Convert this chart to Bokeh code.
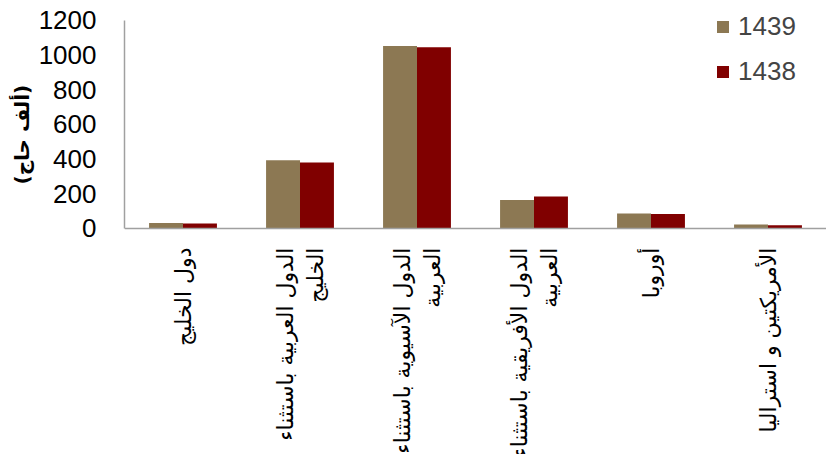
from math import pi
from bokeh.plotting import figure
from bokeh.models import FactorRange, Range1d, Legend, LegendItem, Span, ColumnDataSource, Title
from bokeh.transform import dodge
from bokeh.core.properties import value
from bokeh.embed import file_html
from bokeh.resources import INLINE

# ---- data ----
regions = [
    "دول الخليج",
    "الدول العربية باستثناء\nالخليج",
    "الدول الآسيوية باستثناء\nالعربية",
    "الدول الأفريقية باستثناء\nالعربية",
    "أوروبا",
    "الأمريكتين و استراليا",
]
pilgrims_1439 = [32, 394, 1052, 164, 86, 23]
pilgrims_1438 = [29, 380, 1045, 184, 83, 19]
series_names = ["1439", "1438"]
y_ticks = [0, 200, 400, 600, 800, 1000, 1200]
y_title = "(ألف حاج)"

# ---- styles ----
C1439 = "#8C7853"
C1438 = "#800000"
AXIS_GREY = "#a0a0a0"

# The frame covers the whole page height so that the legend is not cut at the
# top and the rotated category labels (text glyphs under the zero line) are
# cut by the page edge, as in the original.  The value axis is bounded to 0..1200.
p = figure(
    x_range=FactorRange(factors=regions),
    y_range=Range1d(-1304, 1315),
    width=826, height=454,
    output_backend="svg", toolbar_location=None,
    x_axis_location=None,
    min_border_left=124, min_border_right=0,
    min_border_top=0, min_border_bottom=0,
    outline_line_color=None,
)
p.xgrid.grid_line_color = None
p.ygrid.grid_line_color = None

src = ColumnDataSource(dict(region=regions, s1439=pilgrims_1439, s1438=pilgrims_1438))
r1 = p.vbar(x=dodge("region", -0.145, range=p.x_range), top="s1439", width=0.29,
            source=src, fill_color=C1439, line_color=None)
r2 = p.vbar(x=dodge("region", 0.145, range=p.x_range), top="s1438", width=0.29,
            source=src, fill_color=C1438, line_color=None)

# category axis line at zero
p.add_layout(Span(location=0, dimension="width", line_color=AXIS_GREY, line_width=1.5))

# category labels, rotated, hanging from the zero line
p.text(x="region", y=-110, text="region", source=src, angle=pi / 2,
       text_align="right", text_baseline="middle",
       text_font=value("DejaVu Sans"), text_font_size="22px", text_color="black")

# y axis
p.yaxis.bounds = (0, 1200)
p.yaxis.ticker = y_ticks
p.yaxis.major_tick_line_color = None
p.yaxis.minor_tick_line_color = None
p.yaxis.axis_line_color = AXIS_GREY
p.yaxis.axis_line_width = 1.5
p.yaxis.major_label_text_font = "Liberation Sans"
p.yaxis.major_label_text_font_size = "26px"
p.yaxis.major_label_text_color = "black"
p.yaxis.major_label_standoff = 22

# value-axis title, beside the 0..1200 part of the axis
p.add_layout(Title(text=y_title, align="left", offset=270, standoff=4,
                   text_font="DejaVu Sans", text_font_size="20px",
                   text_font_style="bold", text_color="black"), "left")

legend = Legend(
    items=[LegendItem(label=series_names[0], renderers=[r1]),
           LegendItem(label=series_names[1], renderers=[r2])],
    location=(591, 367),
    glyph_width=15, glyph_height=15,
    label_text_font="Liberation Sans", label_text_font_size="26px",
    label_standoff=8, padding=0, margin=0, spacing=14,
    border_line_color=None, background_fill_alpha=0,
)
p.add_layout(legend)

open("out.html", "w").write(file_html(p, INLINE))
